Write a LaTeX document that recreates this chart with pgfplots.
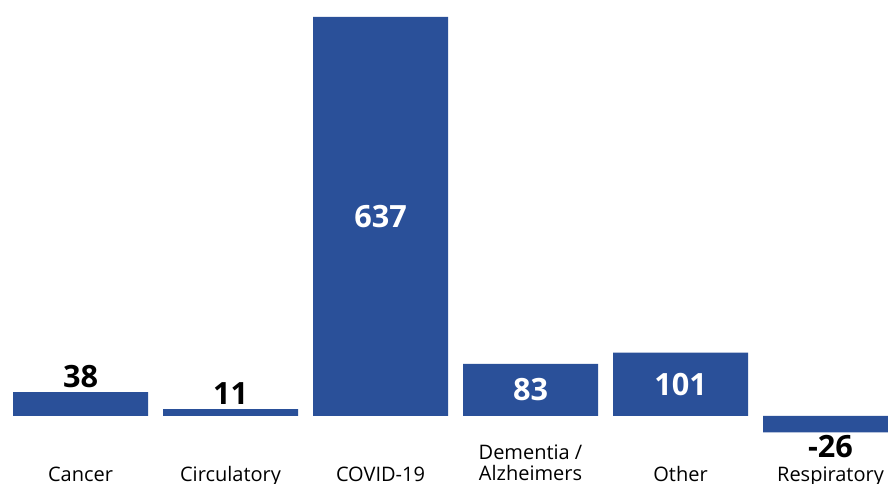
\documentclass[border=0pt]{standalone}
\usepackage{fontspec}
\setmainfont{Open Sans}
\usepackage{pgfplots}
\pgfplotsset{compat=1.18}
\definecolor{barblue}{RGB}{42,80,153}
\begin{document}
\begin{tikzpicture}
\begin{axis}[
  at={(0,0)}, anchor=south west,
  scale only axis, width=666pt, height=363pt,
  xmin=-0.5367, xmax=5.3833, ymin=-108.6, ymax=664.1,
  hide axis, clip=true,
  ybar, bar width=0.9, bar shift=0pt,
]
\addplot[fill=barblue, draw=none] coordinates {(0,38) (1,11) (2,637) (3,83) (4,101) (5,-26)};
% value labels
\node[anchor=base, font=\fontsize{23}{26}\selectfont\bfseries] at (axis cs:0,44.7) {38};
\node[anchor=base, font=\fontsize{23}{26}\selectfont\bfseries] at (axis cs:1,17.6) {11};
\node[anchor=center, text=white, font=\fontsize{23}{26}\selectfont\bfseries] at (axis cs:2,318.5) {637};
\node[anchor=center, text=white, font=\fontsize{23}{26}\selectfont\bfseries] at (axis cs:3,41.5) {83};
\node[anchor=center, text=white, font=\fontsize{23}{26}\selectfont\bfseries] at (axis cs:4,50.5) {101};
\node[anchor=base, font=\fontsize{23}{26}\selectfont\bfseries] at (axis cs:5,-67.0) {-26};
% category labels
\node[anchor=base, font=\fontsize{15}{18}\selectfont] at (axis cs:0,-105.4) {Cancer};
\node[anchor=base, font=\fontsize{15}{18}\selectfont] at (axis cs:1,-105.4) {Circulatory};
\node[anchor=base, font=\fontsize{15}{18}\selectfont] at (axis cs:2,-105.4) {COVID-19};
\node[anchor=base, font=\fontsize{15}{18}\selectfont] at (axis cs:3,-70.2) {Dementia /};
\node[anchor=base, font=\fontsize{15}{18}\selectfont] at (axis cs:3,-103.8) {Alzheimers};
\node[anchor=base, font=\fontsize{15}{18}\selectfont] at (axis cs:4,-105.4) {Other};
\node[anchor=base, font=\fontsize{15}{18}\selectfont] at (axis cs:5,-105.4) {Respiratory};
\end{axis}
\pgfresetboundingbox
\path[use as bounding box] (0,0) rectangle (666pt,363pt);
\end{tikzpicture}
\end{document}
